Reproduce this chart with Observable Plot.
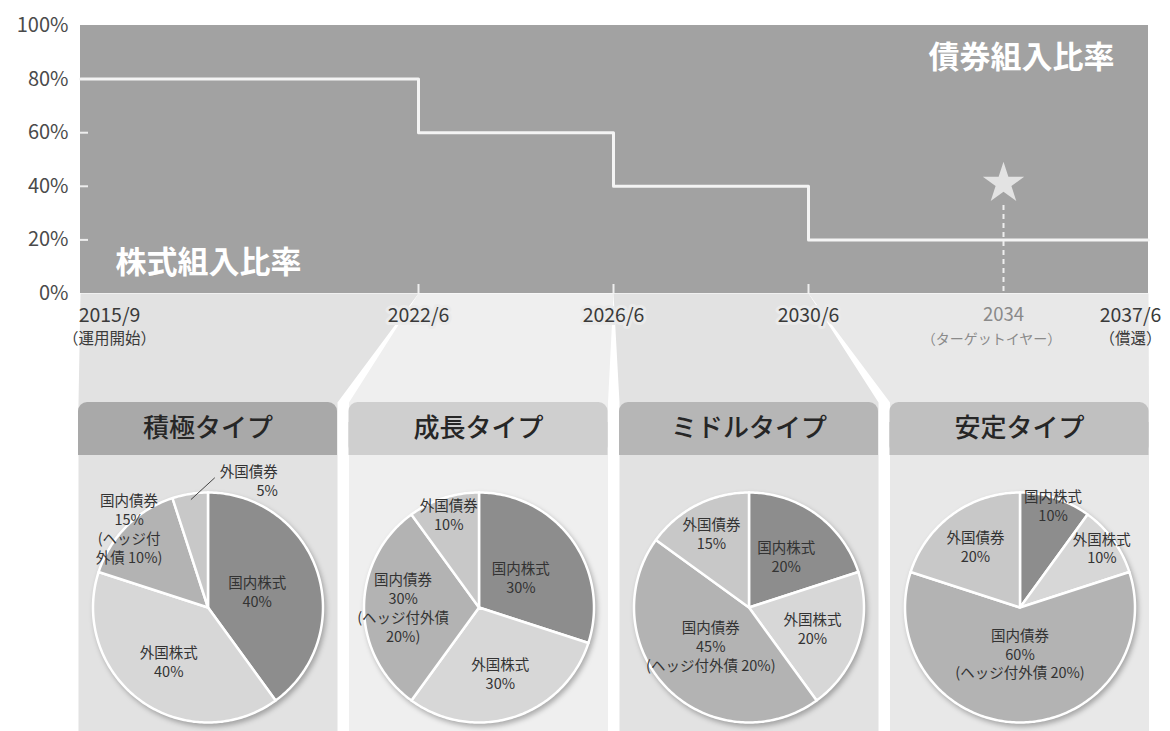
<!DOCTYPE html>
<html><head><meta charset="utf-8">
<script src="https://cdn.jsdelivr.net/npm/d3@7"></script>
<script src="https://cdn.jsdelivr.net/npm/@observablehq/plot@0.6"></script>
<style>
body{margin:0;background:#fff;font-family:"Noto Sans CJK JP","Noto Sans",sans-serif}
#wrap{position:relative;width:1170px;height:731px;overflow:hidden;background:#fff}
.pie g[aria-label="line"]{filter:drop-shadow(2px 3px 2.5px rgba(0,0,0,0.28))}
</style></head><body><div id="wrap"></div>
<script>
// ---------------- data ----------------
const milestoneDates  = [2015 + 8/12, 2022 + 5/12, 2026 + 5/12, 2030 + 5/12, 2034, 2037 + 5/12];
const milestoneLabels = ["2015/9", "2022/6", "2026/6", "2030/6", "2034", "2037/6"];
const milestoneNotes  = ["（運用開始）", "", "", "", "（ターゲットイヤー）", "（償還）"];
const stepDates   = [2015 + 8/12, 2022 + 5/12, 2026 + 5/12, 2030 + 5/12, 2037 + 5/12];
const equityShare = [80, 60, 40, 20, 20];
const yTicks = [0, 20, 40, 60, 80, 100];
const targetYear = 2034;
const equityTitle = "株式組入比率";
const bondTitle = "債券組入比率";
const fundTypes = ["積極タイプ", "成長タイプ", "ミドルタイプ", "安定タイプ"];
const assetClasses = ["国内株式", "外国株式", "国内債券", "外国債券"];
const allocations = [[40, 40, 15, 5], [30, 30, 30, 10], [20, 20, 45, 15], [10, 10, 60, 20]];
const hedgeNotes = ["(ヘッジ付\n外債 10%)", "(ヘッジ付外債\n20%)", "(ヘッジ付外債 20%)", "(ヘッジ付外債 20%)"];

// ---------------- style / layout ----------------
const FONT = '"Noto Sans CJK JP","Noto Sans",sans-serif';
const sliceColors = ["#8d8d8d", "#d7d7d7", "#b3b3b3", "#c8c8c8"];
const fanColors = ["#e2e2e2", "#efefef", "#e2e2e2", "#e8e8e8"];
const headerColors = ["#a9a9a9", "#cfcfcf", "#b6b6b6", "#c0c0c0"];
const fanSpans = [[0, 1], [1, 2], [2, 3], [3, 5]];
const labelRadius = [[0.45, 0.58, 0.97, 1], [0.45, 0.6, 0.66, 0.85], [0.55, 0.58, 0.47, 0.72], [0.93, 0.88, 0.40, 0.66]];

const wrap = document.getElementById("wrap");
function place(el, left, top, cls) {
  el.style.position = "absolute"; el.style.left = left + "px"; el.style.top = top + "px";
  if (cls) el.classList.add(cls);
  wrap.appendChild(el); return el;
}

const milestones = milestoneDates.map((d, i) => ({date: d, label: milestoneLabels[i], note: milestoneNotes[i]}));
const steps = stepDates.map((d, i) => ({date: d, equity: equityShare[i]}));
const first = milestones[0], last = milestones[milestones.length - 1];
const inner = milestones.slice(1, 4);
const target = milestones.filter(m => m.date === targetYear);

const yearText = {frameAnchor: "bottom", lineAnchor: "middle", fontSize: 19.5, fill: "#3a3a3a", dy: 22};
const noteText = {frameAnchor: "bottom", lineAnchor: "middle", fontSize: 15.5, fill: "#3a3a3a", dy: 46};

const topChart = Plot.plot({
  width: 1170, height: 360,
  marginLeft: 80, marginRight: 22, marginTop: 25, marginBottom: 67,
  style: {background: "transparent", fontFamily: FONT, overflow: "visible"},
  x: {type: "linear", domain: milestoneDates, range: [80, 418, 613, 808, 1003, 1148], axis: null},
  y: {domain: [0, 100], axis: null},
  marks: [
    Plot.rect([{x1: first.date, x2: last.date}], {x1: "x1", x2: "x2", y1: 0, y2: 100, fill: "#a2a2a2"}),
    Plot.line(steps, {x: "date", y: "equity", curve: "step-after", stroke: "#f4f4f4", strokeWidth: 3}),
    Plot.tickY(yTicks.filter(t => t > 0 && t < 80), {y: d => d, stroke: "#eeeeee", strokeWidth: 2, insetRight: 1060}),
    Plot.tickX(inner, {x: "date", stroke: "#eeeeee", strokeWidth: 2, insetTop: 259}),
    Plot.ruleX([targetYear], {x: d => d, stroke: "#eeeeee", strokeWidth: 2, strokeDasharray: "5,4", insetTop: 180}),
    Plot.dot([targetYear], {x: d => d, frameAnchor: "middle", dy: 24, symbol: "star", r: 13, fill: "#e3e3e3", stroke: "none"}),
    Plot.text(yTicks, {x: first.date, y: d => d, text: d => d + "%", textAnchor: "end", dx: -12, fontSize: 20, fill: "#4a4a4a"}),
    Plot.text([bondTitle], {text: d => d, frameAnchor: "top-right", textAnchor: "end", lineAnchor: "middle", dx: -34, dy: 33, fontSize: 31, fontWeight: "bold", fill: "white"}),
    Plot.text([equityTitle], {text: d => d, frameAnchor: "bottom-left", textAnchor: "start", lineAnchor: "middle", dx: 35, dy: -30, fontSize: 31, fontWeight: "bold", fill: "white"}),
    Plot.text([first], {x: "date", text: "label", ...yearText, dx: 29}),
    Plot.text([first], {x: "date", text: "note", ...noteText, dx: 29}),
    Plot.text(inner, {x: "date", text: "label", ...yearText, stroke: "#eaeaea", strokeWidth: 6}),
    Plot.text(target, {x: "date", text: "label", ...yearText, fontSize: 18.5, fill: "#8a8a8a"}),
    Plot.text(target, {x: "date", text: "note", ...noteText, fontSize: 14, fill: "#8a8a8a", dx: -12}),
    Plot.text([last], {x: "date", text: "label", ...yearText, dx: -18}),
    Plot.text([last], {x: "date", text: "note", ...noteText, dx: -18})
  ]
});

const xs = topChart.scale("x"), ys = topChart.scale("y");
const X = v => xs.apply(v);
const baseY = ys.apply(0);

// ---------------- layout layer: fans + panels ----------------
const panelW = 259, panelGap = 11.5, panelLeft0 = 78, headerTop = 402, headerBottom = 455, H = 731;
const panels = fundTypes.map((name, i) => {
  const left = panelLeft0 + i * (panelW + panelGap);
  return {name, i, left, right: left + panelW, cx: left + panelW / 2, fan: fanColors[i], head: headerColors[i]};
});
const fanPts = panels.flatMap(p => {
  const [a, b] = fanSpans[p.i];
  const xa = X(milestoneDates[a]), xb = X(milestoneDates[b]);
  return [[xa, baseY], [xb, baseY], [p.right, headerTop], [p.right, H], [p.left, H], [p.left, headerTop], [xa, baseY]]
    .map(([x, y]) => ({x, y, fan: p.i, color: p.fan}));
});

const layout = Plot.plot({
  width: 1170, height: H, margin: 0,
  style: {background: "white", fontFamily: FONT},
  x: {domain: [0, 1170], range: [0, 1170], axis: null},
  y: {domain: [0, H], range: [0, H], axis: null},
  color: {type: "identity"},
  marks: [
    Plot.line(fanPts, {x: "x", y: "y", z: "fan", fill: "color", stroke: "none"}),
    Plot.rect(panels, {x1: "left", x2: "right", y1: headerTop, y2: headerBottom, rx: 9, fill: "head"}),
    Plot.rect(panels, {x1: "left", x2: "right", y1: headerTop + 20, y2: headerBottom, fill: "head"}),
    Plot.text(panels, {x: "cx", y: (headerTop + headerBottom) / 2, text: "name", fontSize: 26, fontWeight: 500, fill: "#262626"})
  ]
});

place(layout, 0, 0);
place(topChart, 0, 0);

// ---------------- pies ----------------
const R = 115, PH = 300, pieCY = 607;
panels.forEach(p => {
  const vals = allocations[p.i];
  const arcs = d3.pie().sort(null).value(d => d)(vals);
  const pts = [];
  const labels = [];
  const leaders = [];
  arcs.forEach((a, k) => {
    const a0 = a.startAngle, a1 = a.endAngle;
    const n = Math.max(2, Math.ceil((a1 - a0) / (Math.PI / 180)));
    pts.push({x: 0, y: 0, k, color: sliceColors[k]});
    for (let j = 0; j <= n; j++) {
      const t = a0 + (a1 - a0) * j / n;
      pts.push({x: Math.sin(t), y: Math.cos(t), k, color: sliceColors[k]});
    }
    pts.push({x: 0, y: 0, k, color: sliceColors[k]});
    const mid = (a0 + a1) / 2;
    let text = assetClasses[k] + "\n" + vals[k] + "%";
    if (k === 2) text += "\n" + hedgeNotes[p.i];
    if (vals[k] < 8) {
      const e = mid + 12 * Math.PI / 180;
      leaders.push({x1: 0.95 * Math.sin(mid), y1: 0.95 * Math.cos(mid), x2: 1.13 * Math.sin(e), y2: 1.13 * Math.cos(e)});
      labels.push({x: 1.13 * Math.sin(e), y: 1.13 * Math.cos(e), text, outside: true});
    } else {
      const r = labelRadius[p.i][k];
      labels.push({x: r * Math.sin(mid), y: r * Math.cos(mid), text, outside: false});
    }
  });
  const pie = Plot.plot({
    width: panelW, height: PH, margin: 0,
    style: {background: "transparent", fontFamily: FONT, overflow: "visible"},
    x: {domain: [-panelW / 2 / R, panelW / 2 / R], axis: null},
    y: {domain: [-PH / 2 / R, PH / 2 / R], axis: null},
    color: {type: "identity"},
    marks: [
      Plot.line(pts, {x: "x", y: "y", z: "k", fill: "color", stroke: "white", strokeWidth: 2.5, strokeLinejoin: "round"}),
      Plot.link(leaders, {x1: "x1", y1: "y1", x2: "x2", y2: "y2", stroke: "#444", strokeWidth: 1}),
      Plot.text(labels.filter(d => !d.outside), {x: "x", y: "y", text: "text", fontSize: 14.5, lineHeight: 1.3, fill: "#333"}),
      Plot.text(labels.filter(d => d.outside), {x: "x", y: "y", text: "text", fontSize: 14.5, lineHeight: 1.3, fill: "#333", textAnchor: "end", dx: 63, dy: 3})
    ]
  });
  const div = document.createElement("div");
  div.appendChild(pie);
  place(div, p.left, pieCY - PH / 2, "pie");
});
</script>
</body></html>
